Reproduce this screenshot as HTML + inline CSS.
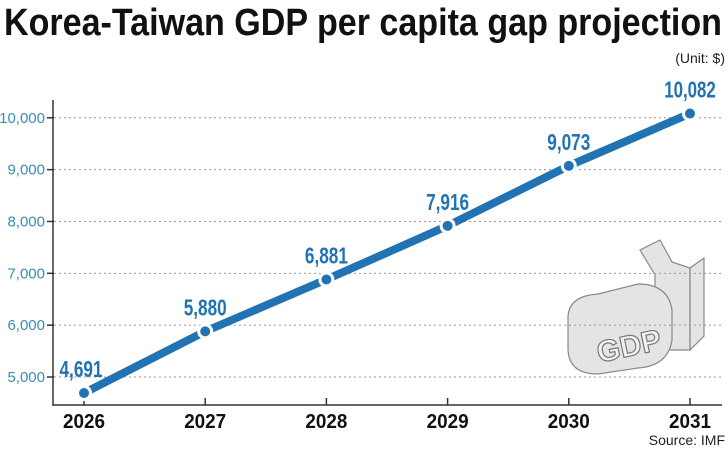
<!DOCTYPE html>
<html><head><meta charset="utf-8"><style>
body{margin:0;background:#fff;width:728px;height:451px;overflow:hidden}
svg text{font-family:"Liberation Sans",sans-serif}
</style></head><body>
<svg width="728" height="451">
<text x="4" y="35" font-size="38" font-weight="bold" fill="#111" textLength="718" lengthAdjust="spacingAndGlyphs">Korea-Taiwan GDP per capita gap projection</text>
<text x="725" y="63" font-size="14" text-anchor="end" fill="#222">(Unit: $)</text>
<text x="725" y="445" font-size="14" text-anchor="end" fill="#222">Source: IMF</text>
<g id="icon" fill="#e4e4e4" stroke="#888" stroke-width="1.2">
<polygon points="672,262 660,240 640,250 655,275 655,350 690,350 690,268"/>
<polygon points="690,268 704,258 704,336 690,350"/>
<path d="M568,318 q0,-22 30,-24 l40,-10 q30,0 34,26 l0,30 q-4,26 -34,28 l-40,6 q-30,0 -30,-26z"/>
<text x="596" y="358" font-size="30" font-weight="bold" fill="#f2f2f2" stroke="#777" transform="rotate(-12 620 345)">GDP</text>
</g>
<g id="grid"></g><g id="axes"></g><g id="series"></g>
</svg>
<script>
const years=["2026","2027","2028","2029","2030","2031"];
const values=[4691,5880,6881,7916,9073,10082];
const labels=["4,691","5,880","6,881","7,916","9,073","10,082"];
const yTicks=[5000,6000,7000,8000,9000,10000];
const yTickLabels=["5,000","6,000","7,000","8,000","9,000","10,000"];
const NS="http://www.w3.org/2000/svg";
const xs=i=>84+i*121.2;
const ys=v=>377-(v-5000)*0.05184;
function mk(tag,attrs,parent,txt){const e=document.createElementNS(NS,tag);for(const k in attrs)e.setAttribute(k,attrs[k]);if(txt!==undefined)e.textContent=txt;document.getElementById(parent).appendChild(e);return e;}
yTicks.forEach((t,i)=>{
 const g=mk('line',{x1:54,x2:722,y1:ys(t),y2:ys(t),stroke:'#999','stroke-dasharray':'2,3','stroke-width':1},'grid');
 
 
 const tk=mk('line',{x1:47,x2:54,y1:ys(t),y2:ys(t),stroke:'#333','stroke-width':1.5},'axes');
 
 
 const l=mk('text',{x:45,y:ys(t)+5,'font-size':15,'text-anchor':'end',fill:'#3a8db0'},'axes',yTickLabels[i]);
 
 
});
const ya=mk('line',{x1:53,x2:53,y1:100,y2:406,stroke:'#333','stroke-width':1.5},'axes');


const xa=mk('line',{x1:53,x2:722,y1:405,y2:405,stroke:'#333','stroke-width':1.5},'axes');


years.forEach((y,i)=>{
 const tk=mk('line',{x1:xs(i),x2:xs(i),y1:405,y2:398,stroke:'#333','stroke-width':1.5},'axes');
 
 
 const l=mk('text',{x:xs(i),y:428,'font-size':20,'font-weight':'bold','text-anchor':'middle',fill:'#111',textLength:42,lengthAdjust:'spacingAndGlyphs'},'axes',y);
 
 
});
const pts=values.map((v,i)=>xs(i)+','+ys(v)).join(' ');
const pl=mk('polyline',{points:pts,fill:'none',stroke:'#2173b3','stroke-width':8,'stroke-linejoin':'round'},'series');


values.forEach((v,i)=>{
 const c=mk('circle',{cx:xs(i),cy:ys(v),r:6.5,fill:'#2173b3',stroke:'#fff','stroke-width':3},'series');
 
 
 const l=mk('text',{x:xs(i)+(i==0?-3:0),y:ys(v)-16,'font-size':23,'font-weight':'bold','text-anchor':'middle',fill:'#2173b3',textLength:labels[i].length*8.6,lengthAdjust:'spacingAndGlyphs'},'series',labels[i]);
 
 
});
</script>
</body></html>
